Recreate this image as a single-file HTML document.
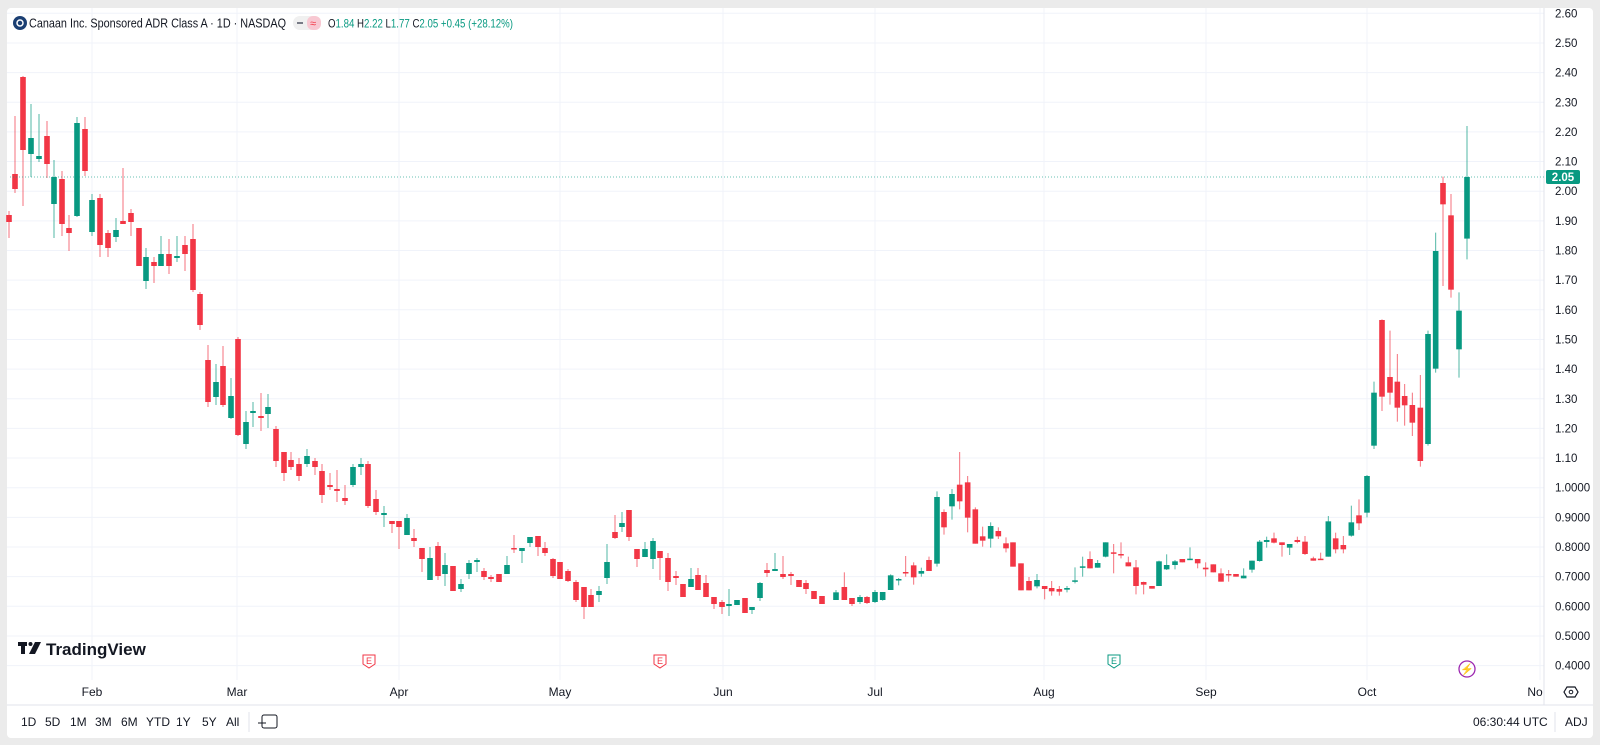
<!DOCTYPE html>
<html><head><meta charset="utf-8">
<style>
html,body{margin:0;padding:0;background:#ebebeb;width:1600px;height:745px;overflow:hidden;font-family:"Liberation Sans",sans-serif;}
#p{position:absolute;left:7px;top:8px;width:1586px;height:730px;background:#fff;border-radius:4px;}
svg{position:absolute;left:0;top:0}
</style></head><body>
<div id="p"></div>
<svg id="s" width="1600" height="745" xmlns="http://www.w3.org/2000/svg" font-family="Liberation Sans, sans-serif">
<g id="grid"></g>
<g id="c"></g>
<line x1="1544" y1="8" x2="1544" y2="705" stroke="#e0e3eb"/>
<line x1="7" y1="705" x2="1593" y2="705" stroke="#e0e3eb"/>
<line x1="10" y1="177" x2="1544" y2="177" stroke="#089981" stroke-dasharray="1,2" opacity="0.6"/>
<g id="yl" font-size="11.5" fill="#131722"></g>
<rect x="1546" y="170" width="34" height="14" rx="2" fill="#089981"/>
<text x="1563" y="181" font-size="11.5" fill="#fff" text-anchor="middle" font-weight="bold">2.05</text>
<g font-size="12" fill="#131722" text-anchor="middle">
<text x="92" y="696">Feb</text><text x="237" y="696">Mar</text><text x="399" y="696">Apr</text><text x="560" y="696">May</text><text x="723" y="696">Jun</text><text x="875" y="696">Jul</text><text x="1044" y="696">Aug</text><text x="1206" y="696">Sep</text><text x="1367" y="696">Oct</text><text x="1535" y="696">No</text>
</g>
<polygon points="1564,692 1567,687 1575,687 1578,692 1575,697 1567,697" fill="none" stroke="#131722" stroke-width="1.2"/>
<circle cx="1571" cy="692" r="1.8" fill="none" stroke="#131722"/>
<!-- header -->
<circle cx="20" cy="23" r="7" fill="#1b3f73"/><circle cx="20" cy="23" r="3" fill="none" stroke="#fff" stroke-width="1.5"/>
<text x="29" y="27.5" font-size="13" fill="#131722" textLength="257" lengthAdjust="spacingAndGlyphs">Canaan Inc. Sponsored ADR Class A · 1D · NASDAQ</text>
<rect x="293" y="16" width="28" height="14" rx="7" fill="#f0f0f0"/><rect x="307" y="16" width="14" height="14" rx="6" fill="#f8c8d2"/>
<rect x="297" y="22" width="6" height="2" fill="#787b86"/><text x="310" y="27" font-size="11" fill="#f23645">≈</text>
<text x="328" y="27.5" font-size="12" fill="#131722" textLength="185" lengthAdjust="spacingAndGlyphs">O<tspan fill="#089981">1.84</tspan> H<tspan fill="#089981">2.22</tspan> L<tspan fill="#089981">1.77</tspan> C<tspan fill="#089981">2.05 +0.45 (+28.12%)</tspan></text>
<!-- logo -->
<rect x="18" y="642" width="9" height="4" fill="#131722"/><rect x="21" y="642" width="4" height="12" fill="#131722"/><circle cx="30.5" cy="644" r="2" fill="#131722"/><polygon points="35,642 41,642 35,654 29,654" fill="#131722"/>
<text x="46" y="655" font-size="17" font-weight="bold" fill="#131722">TradingView</text>
<!-- events -->
<g font-size="9" text-anchor="middle">
<path d="M363,655 h12 v9 l-6,4 l-6,-4z" fill="#fff" stroke="#f23645"/><text x="369" y="664" fill="#f23645">E</text>
<path d="M654,655 h12 v9 l-6,4 l-6,-4z" fill="#fff" stroke="#f23645"/><text x="660" y="664" fill="#f23645">E</text>
<path d="M1108,655 h12 v9 l-6,4 l-6,-4z" fill="#fff" stroke="#089981"/><text x="1114" y="664" fill="#089981">E</text>
<circle cx="1467" cy="669" r="8" fill="#fff" stroke="#9c27b0" stroke-width="1.3"/><text x="1467" y="673" fill="#9c27b0" font-size="11">⚡</text>
</g>
<!-- bottom bar -->
<g font-size="12" fill="#131722">
<text x="21" y="726">1D</text><text x="45" y="726">5D</text><text x="70" y="726">1M</text><text x="95" y="726">3M</text><text x="121" y="726">6M</text><text x="146" y="726">YTD</text><text x="176" y="726">1Y</text><text x="202" y="726">5Y</text><text x="226" y="726">All</text>
<text x="1473" y="726">06:30:44 UTC</text><text x="1565" y="726">ADJ</text>
</g>
<line x1="249" y1="712" x2="249" y2="732" stroke="#e0e3eb"/>
<line x1="1555" y1="712" x2="1555" y2="732" stroke="#e0e3eb"/>
<rect x="262" y="715" width="15" height="13" rx="2" fill="none" stroke="#131722"/><line x1="258" y1="723" x2="266" y2="723" stroke="#131722"/>
</svg>
<script>
var Y=function(p){return 13.3+(2.60-p)*296.5;};
var g='',yl='';
for(var i=0;i<=22;i++){var p=2.6-i*0.1,y=Y(p);g+='<line x1="7" y1="'+y+'" x2="1544" y2="'+y+'" stroke="#f0f3fa"/>';
var t=p>=1.05?p.toFixed(2):p.toFixed(4);yl+='<text x="1555" y="'+(y+4)+'">'+t+'</text>';}
[92,237,399,560,723,875,1044,1206,1367,1540].forEach(function(x){g+='<line x1="'+x+'" y1="8" x2="'+x+'" y2="680" stroke="#f0f3fa"/>';});
document.getElementById('grid').innerHTML=g;document.getElementById('yl').innerHTML=yl;
var A=[[9,'r',215,222,211,238],[15,'r',174,189,116,193],[23,'r',77,150,76,206],[31,'g',138,154,104,177],[39,'g',156,159,114,162],[47,'r',136,164,121,178],[54,'g',177,204,160,238],[62,'r',179,224,171,236],[69,'r',228,233,215,251],[77,'g',123,216,117,217],[85,'r',129,171,117,176],[92,'g',200,232,194,236],[100,'r',198,245,194,257],[108,'r',233,248,230,257],[116,'g',230,237,218,242],[123,'r',221,224,168,224],[131,'r',213,222,209,236],[139,'r',228,266,228,266],[146,'g',257,281,248,289],[154,'r',262,266,257,283],[161,'g',254,266,236,266],[169,'r',254,266,239,274],[177,'g',256,258,236,262],[185,'r',245,254,236,271],[193,'r',239,290,224,292],[200,'r',294,325,292,330],[208,'r',360,402,345,407],[216,'g',382,397,364,405],[223,'r',366,405,346,407],[231,'g',396,418,378,419],[238,'r',339,435,337,436],[246,'g',422,444,411,449],[253,'g',411,413,402,427],[261,'r',416,418,393,431],[268,'g',407,414,394,428],[276,'r',429,461,426,467],[284,'r',452,473,452,481],[291,'r',460,467,452,470],[299,'r',464,476,458,481],[307,'g',456,464,449,467],[315,'r',461,467,458,475],[322,'r',471,495,464,503],[330,'r',485,487,473,490],[337,'r',489,491,470,502],[345,'r',498,501,485,505],[353,'g',467,485,464,487],[361,'g',464,467,458,475],[368,'r',464,506,461,508],[376,'r',499,512,490,515],
[384,'g',513,515,506,527],[392,'r',521,524,521,533],[399,'r',521,527,521,549],[407,'g',518,535,514,535],[414,'r',538,541,529,547],[422,'r',548,559,548,572],[430,'g',558,580,547,580],[438,'r',546,576,542,580],[445,'g',565,574,553,586],[453,'r',566,591,566,591],[461,'g',584,589,579,592],[469,'g',563,574,560,579],[477,'g',560,562,558,572],[484,'r',571,577,568,580],[491,'r',577,579,575,582],[499,'r',574,582,574,582],[507,'g',565,574,556,574],[514,'r',548,549,535,553],[522,'g',548,551,548,563],[530,'g',537,543,537,547],[538,'r',536,547,536,556],[545,'r',548,553,542,556],[553,'r',559,576,558,578],[560,'r',562,579,562,579],[568,'r',571,581,569,582],[576,'r',582,600,580,602],[584,'r',587,607,587,619],[591,'r',595,607,589,607],[599,'g',591,595,586,602],[607,'g',562,578,544,584],[615,'r',532,538,515,539],[622,'g',523,527,512,532],[629,'r',510,537,510,541],[637,'r',549,559,549,567],[645,'g',549,557,542,557],[653,'g',541,559,538,569],[660,'r',551,558,551,580],[668,'r',558,582,553,591],[676,'r',576,578,571,585],[683,'r',584,597,584,597],[691,'g',579,587,568,587],[698,'r',575,590,568,590],[706,'r',583,597,575,597],[714,'r',597,604,597,609],[722,'r',602,607,600,614],[729,'g',604,606,589,616],[737,'g',600,605,600,605],[745,'r',598,613,598,613],[752,'g',607,610,607,614],[760,'g',583,598,582,601],[767,'r',570,573,563,577],[775,'g',569,571,553,571],[783,'r',574,577,556,579],[791,'r',574,576,572,585],[799,'r',580,587,580,587],[806,'r',583,589,580,594],[814,'r',591,599,591,599],[822,'r',596,604,596,604],
[852,'r',598,604,598,606],[860,'g',597,602,595,604],[867,'r',597,603,596,604],[875,'g',592,602,590,603]];
var B=[[48,'g',487,510,480,510],[73,'r',471,510,427,510],[188,'g',486,510,486,512],[212,'g',436,480,433,480],[236,'g',447,451,444,466],[257,'r',426,428,378,440],[281,'r',406,442,397,464],[304,'g',423,431,413,440],[327,'r',390,423,380,423],[351,'g',201,401,184,410],[372,'r',246,292,238,314],[396,'g',192,229,177,269],[419,'r',164,214,66,238],[443,'r',157,263,138,307],[466,'r',238,341,232,341],[488,'r',319,332,290,350],[512,'g',288,326,277,353],[535,'r',303,319,292,327],[558,'r',340,355,322,367],[579,'r',337,410,337,410],[603,'r',400,481,400,481],[627,'r',453,481,441,481],[651,'g',450,469,432,475],[674,'r',468,477,468,508],[695,'r',474,484,453,497],[718,'r',477,485,468,497],[741,'g',474,479,468,487],[765,'g',451,453,412,460],[788,'g',409,411,380,440],[810,'r',387,415,364,415],[833,'g',399,413,390,413],[857,'g',337,380,337,382],[881,'r',367,369,342,430],[903,'r',372,374,337,385],[925,'r',397,409,380,409],[948,'r',412,468,390,493],[971,'r',456,464,455,493],[996,'r',468,476,468,476],[1017,'g',394,468,392,468],[1040,'g',405,418,373,420],[1065,'g',394,405,390,418],[1087,'r',387,397,387,397],[1110,'g',386,388,352,388],[1133,'r',387,400,387,415],[1157,'r',413,418,397,440],[1180,'r',403,427,403,427],[1203,'r',430,455,415,455],[1226,'r',432,434,420,455],[1248,'r',432,440,432,440],[1271,'g',437,445,415,445],[1296,'g',392,419,392,428],[1319,'g',335,393,330,395],[1340,'g',330,336,320,353],[1362,'r',325,338,308,340],[1386,'r',337,345,337,380],[1409,'g',342,353,342,375],[1432,'r',330,336,320,340]];
B.forEach(function(b){A.push([820+b[0]/3,b[1],430+b[2]/3,430+b[3]/3,430+b[4]/3,430+b[5]/3]);});
var C=[[75,'r',1295,1332,1278,1335],[100,'r',1345,1352,1340,1352],[122,'r',1346,1350,1328,1350],[145,'g',1234,1340,1218,1340],[167,'r',1285,1318,1268,1330],[190,'r',1305,1318,1278,1330],[214,'g',1237,1277,1187,1280],[237,'r',1216,1240,1168,1260],[261,'g',1098,1208,1095,1222],[282,'g',848,1007,815,1017],[306,'r',630,860,628,903],[330,'r',801,848,662,884],[352,'r',815,893,732,935],[374,'r',858,886,822,947],[397,'r',885,938,848,978],[421,'r',893,1053,795,1070],[444,'g',672,1002,662,1007],[467,'g',423,776,368,788],[489,'r',219,283,200,528],[513,'r',316,539,252,563],[537,'g',602,718,547,803]];
C.forEach(function(b){A.push([1280+b[0]/3,b[1],110+b[2]/3,110+b[3]/3,110+b[4]/3,110+b[5]/3]);});
A.push([1467,'g',177,238.6,126,259.4]);
var s='';
A.forEach(function(a){var col=a[1]=='g'?'#089981':'#f23645';var x=a[0];var h=Math.max(1.5,a[3]-a[2]);
s+='<line x1="'+x+'" y1="'+a[4]+'" x2="'+x+'" y2="'+a[5]+'" stroke="'+col+'" stroke-width="1" opacity="0.7"/>';
s+='<rect x="'+(x-2.8)+'" y="'+a[2]+'" width="5.6" height="'+h+'" fill="'+col+'"/>';});
document.getElementById('c').innerHTML=s;
</script>
</body></html>
